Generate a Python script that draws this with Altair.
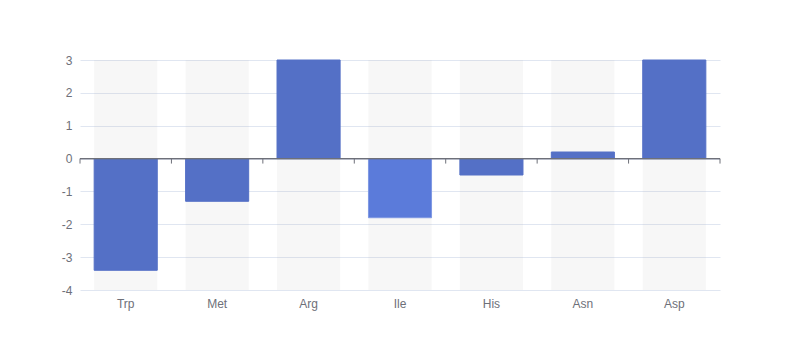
import altair as alt
import pandas as pd

categories = ["Trp", "Met", "Arg", "Ile", "His", "Asn", "Asp"]
values = [-3.4, -1.3, 3.0, -1.8, -0.5, 0.2, 3.0]
bar_colors = ["#5470c6", "#5470c6", "#5470c6", "#5b7bda", "#5470c6", "#5470c6", "#5470c6"]
bar_strokes = ["#5470c6", "#5470c6", "#5470c6", "#7f98e3", "#5470c6", "#5470c6", "#5470c6"]
y_ticks = [-4, -3, -2, -1, 0, 1, 2, 3]
boundaries = [0, 1, 2, 3, 4, 5, 6, 7]

df = pd.DataFrame({"cat": categories, "val": values, "col": bar_colors, "stk": bar_strokes})
bdf = pd.DataFrame({"b": boundaries})

FONT = "sans-serif"
GRAY = "#6e7079"

xscale = alt.Scale(domain=categories, paddingInner=0.31, paddingOuter=0.155)
yscale = alt.Scale(domain=[-4, 3], nice=False, zero=False)

yaxis = alt.Axis(values=y_ticks, domain=False, ticks=False, grid=True,
                 gridColor="#e0e6f1", gridWidth=1, labelOverlap=False,
                 labelColor=GRAY, labelFontSize=12, labelFont=FONT,
                 labelPadding=8, labelExpr="'' + datum.value", title=None)

bg = alt.Chart(df).mark_bar(color="#b4b4b4", opacity=0.11).encode(
    x=alt.X("cat:N", scale=xscale, sort=categories, title=None,
            axis=alt.Axis(labelAngle=0, domain=False, ticks=False, grid=False,
                          labelColor=GRAY, labelFontSize=12, labelFont=FONT,
                          labelPadding=8)),
    y=alt.Y("v0:Q", scale=yscale, title=None, axis=yaxis),
    y2=alt.Y2("v1:Q"),
).transform_calculate(v0="3", v1="-4")

bars = alt.Chart(df).mark_bar(strokeWidth=1).encode(
    x=alt.X("cat:N", scale=xscale, sort=categories, axis=None),
    y=alt.Y("val:Q", scale=yscale, title=None, axis=yaxis),
    y2=alt.datum(0),
    color=alt.Color("col:N", scale=None),
    stroke=alt.Stroke("stk:N", scale=None),
)

zero = alt.Chart(df).mark_rule(color=GRAY, strokeWidth=1).encode(
    y=alt.Y("z:Q", scale=yscale, title=None, axis=yaxis),
).transform_calculate(z="0")

ticks = alt.Chart(bdf).mark_rule(color=GRAY, strokeWidth=1, y2Offset=5).encode(
    x=alt.X("b:Q", scale=alt.Scale(domain=[0, 7], nice=False, zero=False), axis=None),
    y=alt.Y("z:Q", scale=yscale, title=None, axis=yaxis),
    y2=alt.Y2("z:Q"),
).transform_calculate(z="0")

chart = alt.layer(bg, bars, zero, ticks).resolve_scale(x="independent").properties(
    width=640, height=230,
    autosize=alt.AutoSizeParams(type="none"),
    padding={"left": 72, "top": 52, "right": 72, "bottom": 62},
).configure_view(stroke=None)

chart.save("out.html", embed_options={"renderer": "svg", "actions": False})
